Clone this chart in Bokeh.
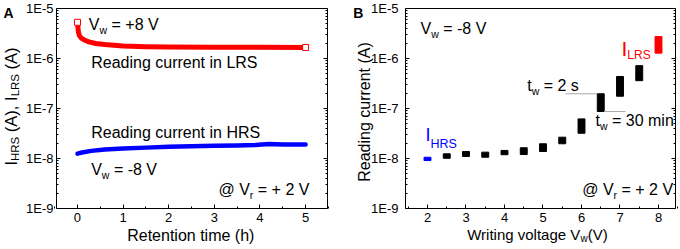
import math
from bokeh.plotting import figure
from bokeh.models import (Label, LinearAxis, LogAxis, FixedTicker, CustomJSTickFormatter, Range1d)
from bokeh.layouts import row
from bokeh.embed import file_html
from bokeh.resources import INLINE

FONT = "Liberation Sans"

# ---------------- data: panel A (retention) ----------------
t_lrs = [0, 0.01, 0.02, 0.04, 0.07, 0.1, 0.15, 0.25, 0.4, 0.6, 1.0, 1.5, 2.0, 3.0, 4.0, 5.0]
i_lrs = [5.3e-6, 4.2e-6, 3.4e-6, 2.9e-6, 2.65e-6, 2.5e-6, 2.35e-6, 2.15e-6, 2.0e-6, 1.9e-6,
         1.78e-6, 1.72e-6, 1.70e-6, 1.68e-6, 1.67e-6, 1.66e-6]
t_hrs = [0, 0.1, 0.3, 0.6, 1.0, 1.5, 2.0, 2.5, 3.0, 3.5, 3.9, 4.2, 4.5, 5.0]
i_hrs = [1.25e-8, 1.32e-8, 1.42e-8, 1.52e-8, 1.58e-8, 1.65e-8, 1.71e-8, 1.75e-8, 1.79e-8,
         1.83e-8, 1.86e-8, 1.94e-8, 1.91e-8, 1.90e-8]

# ---------------- data: panel B (writing voltage) ----------------
vw_mid = [2.5, 3, 3.5, 4, 4.5, 5, 5.5, 6, 6.5, 7, 7.5]
lo_mid = [1.01e-8, 1.10e-8, 1.06e-8, 1.19e-8, 1.20e-8, 1.38e-8, 1.97e-8, 3.2e-8, 8.7e-8, 1.76e-7, 3.6e-7]
hi_mid = [1.24e-8, 1.38e-8, 1.34e-8, 1.45e-8, 1.64e-8, 1.97e-8, 2.67e-8, 6.2e-8, 1.97e-7, 4.37e-7, 7.2e-7]
vw_hrs = [2]
lo_hrs = [9.1e-9]
hi_hrs = [1.06e-8]
vw_lrs = [8]
lo_lrs = [1.28e-6]
hi_lrs = [2.75e-6]

y_ticks = [1e-9, 1e-8, 1e-7, 1e-6, 1e-5]
y_tick_labels = ["1E-9", "1E-8", "1E-7", "1E-6", "1E-5"]
xa_ticks = [0, 1, 2, 3, 4, 5]
xb_ticks = [2, 3, 4, 5, 6, 7, 8]

RED = "#ff0000"
BLUE = "#0000ff"
K = "black"

CW = {' ': 278, '(': 333, ')': 333, ',': 278, '-': 333, '.': 278, '+': 584, '=': 584, '@': 1015,
      'A': 667, 'B': 667, 'C': 722, 'D': 722, 'E': 667, 'F': 611, 'G': 778, 'H': 722, 'I': 278,
      'L': 556, 'M': 833, 'N': 722, 'O': 778, 'R': 722, 'S': 667, 'T': 611, 'V': 667, 'W': 944,
      'a': 556, 'b': 556, 'c': 500, 'd': 556, 'e': 556, 'f': 278, 'g': 556, 'h': 556, 'i': 222,
      'l': 222, 'm': 833, 'n': 556, 'o': 556, 'r': 333, 's': 500, 't': 278, 'u': 556, 'v': 500,
      'w': 722}

H = 247  # canvas height
BASE_FIX = 4.0  # renderer places alphabetic baseline slightly below anchor


def tw(s, size):
    return sum(CW.get(c, 556) for c in s) * size / 1000.0


class Panel:
    """Maps page pixels to data coordinates; the whole canvas is the frame."""

    def __init__(self, page_left, width, box_l, box_r, xb):
        self.page_left, self.width = page_left, width
        self.sx = (box_r - box_l) / (xb[1] - xb[0])
        self.x_at_0 = xb[0] - (box_l - page_left) / self.sx
        self.box_top, self.box_bot = 8.0, 208.0
        self.sy = (self.box_bot - self.box_top) / 4.0  # px per decade

    def dx(self, px):
        return self.x_at_0 + (px - self.page_left) / self.sx

    def dy(self, py):
        return 10 ** (-5 - (py - self.box_top) / self.sy)

    def xrange(self):
        return Range1d(self.dx(self.page_left), self.dx(self.page_left + self.width))

    def yrange(self):
        return Range1d(self.dy(H), self.dy(0))


def rich(P, p, px, py, parts, angle=0.0, bold=False):
    if angle == 0:
        py -= BASE_FIX
    else:
        px -= BASE_FIX
    x, y = P.dx(px), P.dy(py)
    adv = 0.0
    for (s, size, shift, color) in parts:
        lead = len(s) - len(s.lstrip(' '))
        adv += tw(' ' * lead, size)
        body = s.strip(' ')
        if angle == 0:
            ox, oy = adv, -shift
        else:
            ox, oy = shift, adv
        p.add_layout(Label(x=x, y=y, text=body, x_offset=ox, y_offset=oy, angle=angle,
                           text_font=FONT, text_font_size=f"{size}px", text_color=color,
                           text_font_style="bold" if bold else "normal",
                           text_align="left", text_baseline="alphabetic"))
        adv += tw(body, size) + tw(' ' * (len(s) - len(s.rstrip(' '))), size)


def style_axis(ax, standoff, tin=4, mtin=2):
    ax.axis_line_color = "black"
    ax.axis_line_width = 1
    ax.major_tick_in = tin
    ax.major_tick_out = 0
    ax.minor_tick_in = mtin
    ax.minor_tick_out = 0
    ax.major_tick_line_color = "black"
    ax.minor_tick_line_color = "black"
    ax.major_label_text_font = FONT
    ax.major_label_text_font_size = "13px"
    ax.major_label_text_color = "black"
    ax.major_label_standoff = standoff


def log_ticker():
    minors = [m * 10.0 ** e for e in range(-9, -5) for m in range(2, 10)]
    return FixedTicker(ticks=y_ticks, minor_ticks=minors)


def log_formatter():
    return CustomJSTickFormatter(args=dict(tvals=y_ticks, tlabels=y_tick_labels), code="""
        let b = 0, d = 1e9;
        for (let i = 0; i < tvals.length; i++) {
            const e = Math.abs(Math.log10(tvals[i]) - Math.log10(tick));
            if (e < d) { d = e; b = i; }
        }
        return tlabels[b];""")


def blank():
    return CustomJSTickFormatter(code="return ''")


def make_fig(P, xb, xticks, ystandoff):
    p = figure(width=P.width, height=H, x_range=P.xrange(), y_range=P.yrange(),
               y_axis_type="log", output_backend="svg", toolbar_location=None,
               x_axis_location=None, y_axis_location=None, min_border=0)
    p.title.visible = False
    p.grid.visible = False
    p.outline_line_color = None
    p.background_fill_color = "white"
    p.border_fill_color = "white"
    x0, x1 = xb
    y0, y1 = y_ticks[0], y_ticks[-1]
    xminor = [v + 0.5 for v in [xticks[0] - 1] + xticks]
    bx = LinearAxis(fixed_location=y0, bounds=(x0, x1),
                    ticker=FixedTicker(ticks=xticks, minor_ticks=xminor))
    style_axis(bx, 4)
    p.add_layout(bx, "below")
    tx = LinearAxis(fixed_location=y1, bounds=(x0, x1),
                    ticker=FixedTicker(ticks=[], minor_ticks=[]), formatter=blank())
    style_axis(tx, 0, 0, 0)
    p.add_layout(tx, "above")
    ly = LogAxis(fixed_location=x0, bounds=(y0, y1), ticker=log_ticker(),
                 formatter=log_formatter())
    style_axis(ly, ystandoff)
    p.add_layout(ly, "left")
    ryx = LogAxis(fixed_location=x1, bounds=(y0, y1), ticker=log_ticker(), formatter=blank())
    style_axis(ryx, 0)
    p.add_layout(ryx, "right")
    return p


# ---------------- panel A ----------------
XA = (-0.46, 5.48)
A = Panel(0, 335, 56, 327, XA)
pA = make_fig(A, XA, xa_ticks, 3)

pA.line(t_hrs, i_hrs, line_color=BLUE, line_width=4.5, line_cap="round", line_join="round")
pA.line(t_lrs, i_lrs, line_color=RED, line_width=5, line_cap="round", line_join="round")
pA.scatter([t_lrs[0], t_lrs[-1]], [i_lrs[0], i_lrs[-1]], marker="square", size=6,
           fill_color="white", line_color=RED, line_width=1)

rich(A, pA, 88.3, 28, [("V", 16, 0, K), ("w", 10.5, 5.5, K), (" = +8 V", 16, 0, K)])
rich(A, pA, 90.7, 66, [("Reading current in LRS", 16, 0, K)])
rich(A, pA, 90.7, 135.7, [("Reading current in HRS", 16, 0, K)])
rich(A, pA, 90.7, 172.5, [("V", 16, 0, K), ("w", 10.5, 5.5, K), (" = -8 V", 16, 0, K)])
rich(A, pA, 218, 192.5, [("@ V", 16, 0, K), ("r", 10.5, 5.5, K), (" = + 2 V", 16, 0, K)])
rich(A, pA, 126.7, 239, [("Retention time (h)", 16, 0, K)])
ylab_parts = [("I", 16.5, 0, K), ("HRS", 11.5, 4, K), (" (A), I", 16.5, 0, K),
              ("LRS", 11.5, 4, K), (" (A)", 16.5, 0, K)]
L = sum(tw(s, sz) for s, sz, _, _ in ylab_parts)
rich(A, pA, 14, 106 + L / 2, ylab_parts, angle=math.pi / 2)
rich(A, pA, 3, 16, [("A", 14, 0, K)], bold=True)

# ---------------- panel B ----------------
XB = (1.4286, 8.4416)
B = Panel(335, 343, 405, 675, XB)
pB = make_fig(B, XB, xb_ticks, 7)

W = 0.18
pB.vbar(x=vw_mid, bottom=lo_mid, top=hi_mid, width=W, color="black")
pB.vbar(x=vw_hrs, bottom=lo_hrs, top=hi_hrs, width=W, color=BLUE)
pB.vbar(x=vw_lrs, bottom=lo_lrs, top=hi_lrs, width=W, color=RED)
k = vw_mid.index(6.5)
pB.line([5.58, vw_mid[k] - W / 2], [hi_mid[k], hi_mid[k]], line_color="#aaaaaa", line_width=1)
pB.line([vw_mid[k] + W / 2, 7.14], [lo_mid[k], lo_mid[k]], line_color="#aaaaaa", line_width=1)

rich(B, pB, 420, 31.5, [("V", 16, 0, K), ("w", 10.5, 5.5, K), (" = -8 V", 16, 0, K)])
rich(B, pB, 621, 52, [("I", 21, 0, RED), ("LRS", 12, 6.3, RED)])
rich(B, pB, 425, 138.3, [("I", 18, 0, BLUE), ("HRS", 12.5, 8.7, BLUE)])
rich(B, pB, 526.7, 89.3, [("t", 16, 0, K), ("w", 10.5, 5.5, K), (" = 2 s", 16, 0, K)])
rich(B, pB, 595, 124, [("t", 16, 0, K), ("w", 10.5, 5.5, K), (" = 30 min", 16, 0, K)])
rich(B, pB, 581.7, 192.5, [("@ V", 16, 0, K), ("r", 10.5, 5.5, K), (" = + 2 V", 16, 0, K)])
rich(B, pB, 466.7, 237.5, [("Writing voltage V", 15, 0, K), ("w", 10, 4.5, K), ("(V)", 15, 0, K)])
yb = "Reading current (A)"
rich(B, pB, 367.5, 111.5 + tw(yb, 16) / 2, [(yb, 16, 0, K)], angle=math.pi / 2)
rich(B, pB, 352.7, 16, [("B", 14, 0, K)], bold=True)

layout = row(pA, pB)
open("out.html", "w").write(file_html(layout, INLINE))
